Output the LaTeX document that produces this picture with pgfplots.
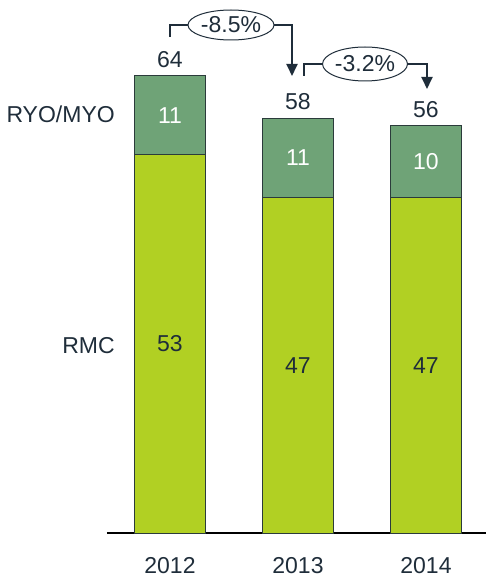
\documentclass[border=0pt]{standalone}
\usepackage{pgfplots}
\pgfplotsset{compat=1.18}
\usepackage{pgfplotstable}
\usepackage{fontspec}
\setmainfont{Liberation Sans}
\usetikzlibrary{arrows.meta,shapes.geometric}

\definecolor{ryo}{HTML}{6FA377}
\definecolor{rmc}{HTML}{B1D023}
\definecolor{edge}{HTML}{2B3B3B}
\definecolor{ink}{HTML}{1F2D3A}
\definecolor{baseline}{HTML}{8C979C}

\pgfplotstableread{
x rmc ryo total
0 53 11 64
1 47 11 58
2 47 10 56
}\volumes

\pgfplotsset{
  base/.style={
    at={(107pt,49pt)}, anchor=south west,
    scale only axis, width=379pt, height=500pt,
    xmin=-0.492, xmax=2.469, ymin=0, ymax=70,
    clip=false,
    font=\fontsize{23}{27}\selectfont,
  },
}

\begin{document}
\begin{tikzpicture}
\useasboundingbox (0,0) rectangle (486pt,582pt);

\begin{axis}[
  base,
  ybar stacked, bar width=71pt,
  axis x line*=bottom, hide y axis,
  x axis line style={baseline, line width=1.5pt, -},
  xtick=data, xticklabels={2012,2013,2014},
  major tick length=0pt,
  xticklabel style={text=ink, yshift=-21pt, font=\fontsize{23}{27}\selectfont},
]
\addplot[fill=rmc, draw=edge, line width=0.8pt] table[x=x, y=rmc] {\volumes};
\addplot[fill=ryo, draw=edge, line width=0.8pt] table[x=x, y=ryo] {\volumes};
\end{axis}

% labels inside and above the bars
\begin{axis}[base, hide axis]
\addplot[draw=none, mark=none, nodes near coords={\pgfplotspointmeta},
  point meta=explicit symbolic,
  every node near coord/.style={anchor=center, text=ink, font=\fontsize{23}{27}\selectfont}]
  table[x=x, y expr=\thisrow{rmc}/2, meta=rmc] {\volumes};
\addplot[draw=none, mark=none, nodes near coords={\pgfplotspointmeta},
  point meta=explicit symbolic,
  every node near coord/.style={anchor=center, text=white, font=\fontsize{23}{27}\selectfont}]
  table[x=x, y expr=\thisrow{rmc}+\thisrow{ryo}/2, meta=ryo] {\volumes};
\addplot[draw=none, mark=none, nodes near coords={\pgfplotspointmeta},
  point meta=explicit symbolic,
  every node near coord/.style={anchor=south, text=ink, yshift=5pt, font=\fontsize{23}{27}\selectfont}]
  table[x=x, y expr=\thisrow{rmc}+\thisrow{ryo}, meta=total] {\volumes};
\node[anchor=east, text=ink, inner sep=0pt, font=\fontsize{23}{27}\selectfont] at (axis cs:-0.43,58.6) {RYO/MYO};
\node[anchor=east, text=ink, inner sep=0pt, font=\fontsize{23}{27}\selectfont] at (axis cs:-0.43,26.3) {RMC};
\end{axis}

% change annotations
\begin{scope}[ink, line width=1.8pt, font=\fontsize{23}{27}\selectfont]
\draw[-{Triangle[width=11pt,length=12pt]}] (170pt,545pt) -- (170pt,557pt) -- (292pt,557pt) -- (292pt,506pt);
\node[draw, ellipse, fill=white, line width=1pt, minimum width=86pt, minimum height=30pt, inner sep=0pt]
  at (231pt,557pt) {-8.5\%};
\draw[-{Triangle[width=11pt,length=12pt]}] (304pt,506pt) -- (304pt,518pt) -- (427pt,518pt) -- (427pt,493pt);
\node[draw, ellipse, fill=white, line width=1pt, minimum width=84pt, minimum height=34pt, inner sep=0pt]
  at (365pt,518pt) {-3.2\%};
\end{scope}
\end{tikzpicture}
\end{document}
